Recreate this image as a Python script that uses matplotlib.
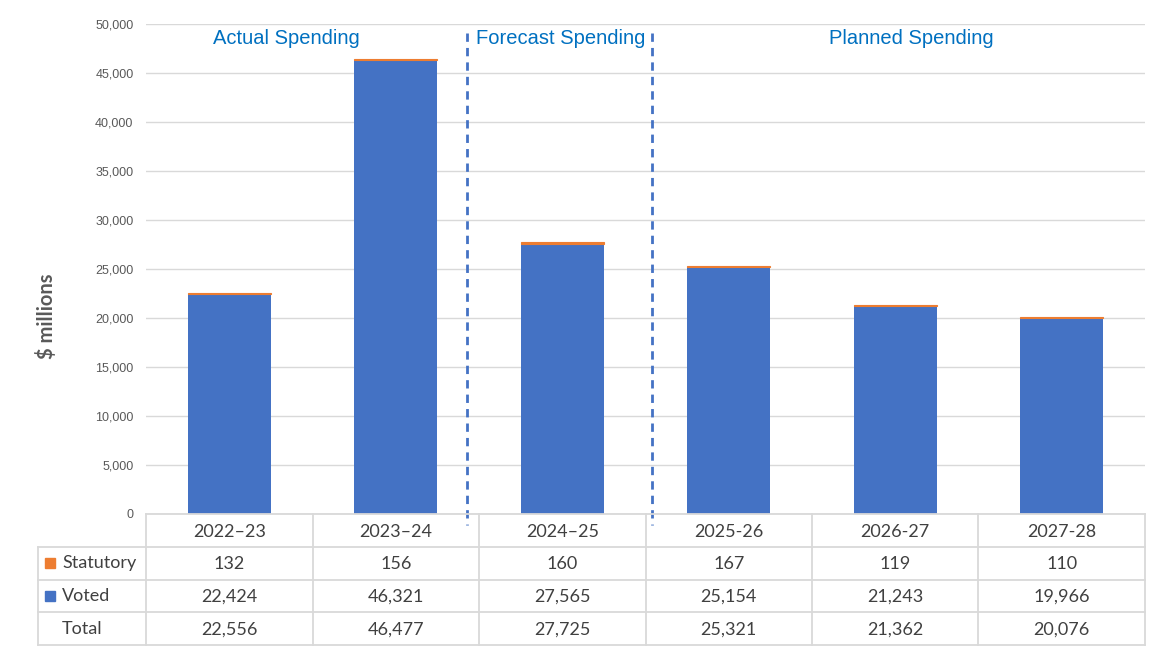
import matplotlib
matplotlib.use("Agg")
import matplotlib.pyplot as plt
import numpy as np

# ---- data ----
years = ["2022\u201323", "2023\u201324", "2024\u201325", "2025-26", "2026-27", "2027-28"]
statutory = [132, 156, 160, 167, 119, 110]
voted = [22424, 46321, 27565, 25154, 21243, 19966]
totals = [22556, 46477, 27725, 25321, 21362, 20076]
series_names = ["Statutory", "Voted", "Total"]
section_labels = ["Actual Spending", "Forecast Spending", "Planned Spending"]
yticks = list(range(0, 50001, 5000))

# ---- style ----
BLUE = "#4472C4"
ORANGE = "#ED7D31"
GRID = "#d9d9d9"
TXT = "#595959"
TAB = "#404040"
SEC = "#0070C0"

W, H = 1170, 656
fig = plt.figure(figsize=(W / 100, H / 100), dpi=100)

L, R, T, B = 146, 1145, 24, 514
ax = fig.add_axes([L / W, 1 - B / H, (R - L) / W, (B - T) / H])
x = np.arange(len(years))
ax.bar(x, voted, width=0.5, color=BLUE, zorder=3)
ax.bar(x, statutory, bottom=voted, width=0.5, color=ORANGE, edgecolor=ORANGE,
       lw=0.8, zorder=3)
ax.set_xlim(-0.5, len(years) - 0.5)
ax.set_ylim(0, 50000)
ax.set_yticks(yticks)
ax.set_yticklabels([f"{v:,}" for v in yticks], fontsize=9, color=TXT,
                   family="Liberation Sans")
ax.set_xticks([])
ax.tick_params(axis="y", length=0, pad=9)
ax.yaxis.grid(True, color=GRID, lw=1, zorder=0)
ax.set_axisbelow(True)
for s in ax.spines.values():
    s.set_visible(False)

# dashed separators
for xs in (1.43, 2.54):
    ax.plot([xs, xs], [49100, -1100], ls=(0, (3, 2.2)), color=BLUE, lw=2,
            clip_on=False, zorder=5)

# section labels
for xp, lab in zip((0.341, 1.99, 4.095), section_labels):
    ax.text(xp, 48470, lab, ha="center", va="center", fontsize=14.5,
            color=SEC, family="Liberation Sans")

fig.text(47 / W, 1 - 316 / H, "$ millions", rotation=90, ha="center",
         va="center", fontsize=14.5, fontweight="bold", color=TXT, family="Lato")

# ---- data table ----
TL, TB = 38, 645
axt = fig.add_axes([TL / W, 1 - TB / H, (R - TL) / W, (TB - B) / H])
colw = (R - L) / len(years)
x0 = -0.5 - (L - TL) / colw
axt.set_xlim(x0, len(years) - 0.5)
axt.set_ylim(4, 0)
axt.axis("off")

lk = dict(color=GRID, lw=1.3, clip_on=False)
axt.plot([-0.5, len(years) - 0.5], [0, 0], **lk)
for r in (1, 2, 3, 4):
    axt.plot([x0, len(years) - 0.5], [r, r], **lk)
for c in range(len(years) + 1):
    axt.plot([c - 0.5, c - 0.5], [0, 4], **lk)
axt.plot([x0, x0], [1, 4], **lk)

tf = dict(fontsize=13, color=TAB, family="Lato", ha="center", va="center")
for i, yr in enumerate(years):
    axt.text(i, 0.55, yr, **tf)
rows = [statutory, voted, totals]
for r, vals in enumerate(rows):
    for i, v in enumerate(vals):
        axt.text(i, r + 1.52, f"{v:,}", **tf)

px = 1 / colw
lab_x = x0 + 24 * px
for r, name in enumerate(series_names):
    axt.text(lab_x, r + 1.5, name, fontsize=13, color=TAB, family="Lato",
             ha="left", va="center")
for r, col in ((0, ORANGE), (1, BLUE)):
    axt.add_patch(plt.Rectangle((x0 + 7 * px, r + 1.5 - 0.15), 10 * px, 0.3,
                                color=col, clip_on=False))

fig.savefig("out.png", dpi=100)
